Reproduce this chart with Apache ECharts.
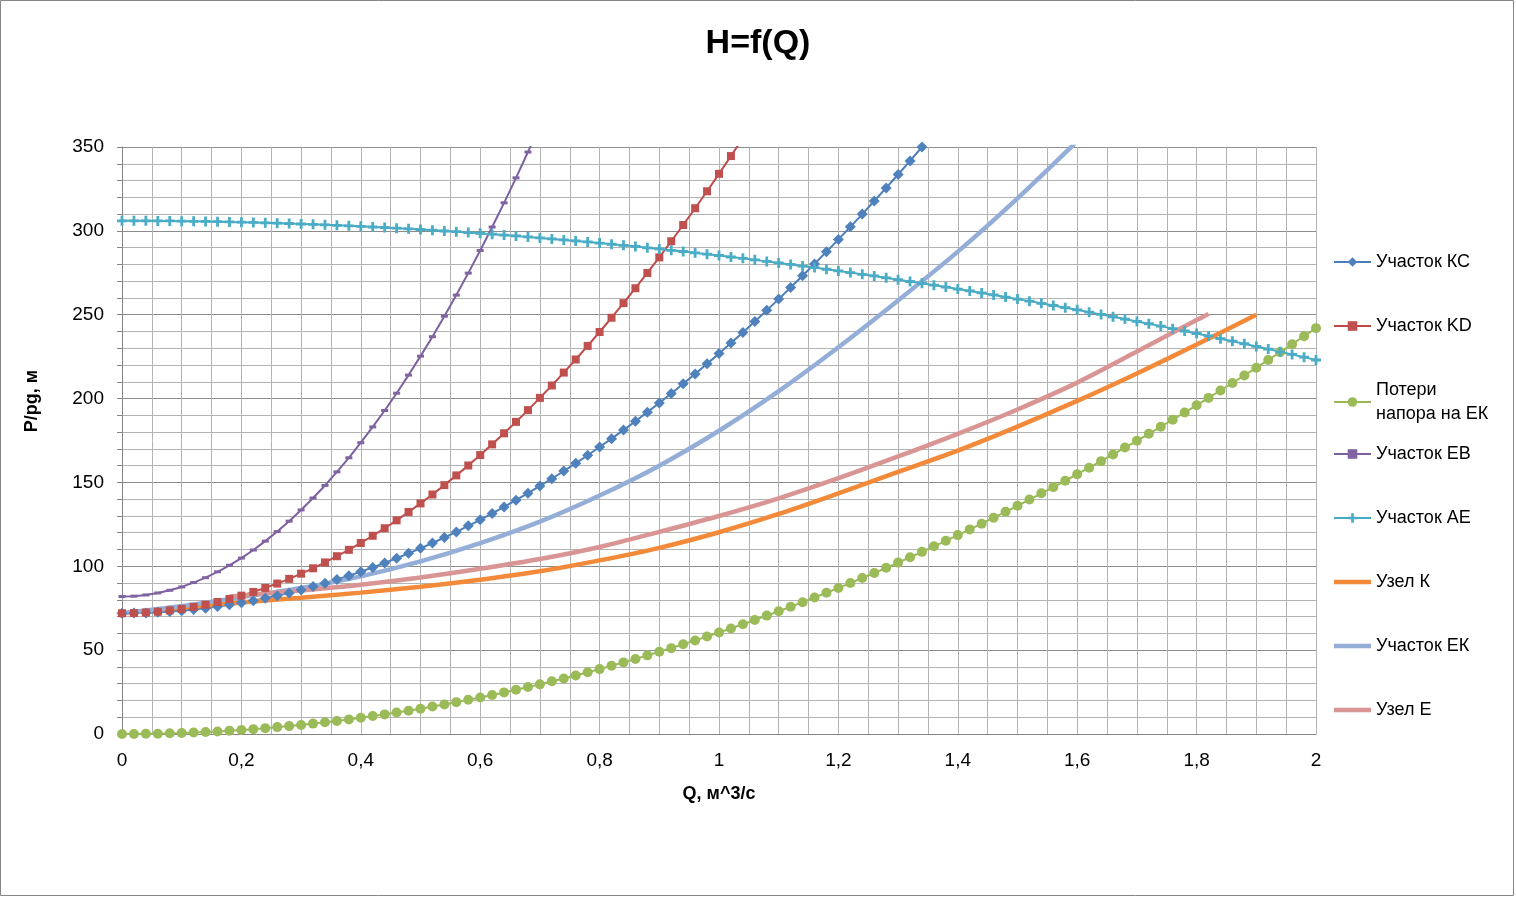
<!DOCTYPE html>
<html><head><meta charset="utf-8">
<script src="https://cdn.jsdelivr.net/npm/echarts@6/dist/echarts.min.js"></script>
<style>html,body{margin:0;padding:0;background:#fff}#c{width:1516px;height:897px}</style>
</head><body><div id="c"></div>
<script>
// Q grid for marker series (м^3/с)
const qFine = [0,0.02,0.04,0.06,0.08,0.1,0.12,0.14,0.16,0.18,0.2,0.22,0.24,0.26,0.28,0.3,0.32,0.34,0.36,0.38,0.4,0.42,0.44,0.46,0.48,0.5,0.52,0.54,0.56,0.58,0.6,0.62,0.64,0.66,0.68,0.7,0.72,0.74,0.76,0.78,0.8,0.82,0.84,0.86,0.88,0.9,0.92,0.94,0.96,0.98,1,1.02,1.04,1.06,1.08,1.1,1.12,1.14,1.16,1.18,1.2,1.22,1.24,1.26,1.28,1.3,1.32,1.34,1.36,1.38,1.4,1.42,1.44,1.46,1.48,1.5,1.52,1.54,1.56,1.58,1.6,1.62,1.64,1.66,1.68,1.7,1.72,1.74,1.76,1.78,1.8,1.82,1.84,1.86,1.88,1.9,1.92,1.94,1.96,1.98,2];
// Q grid for smooth node curves
const qCoarse = [0,0.1,0.2,0.3,0.4,0.5,0.6,0.7,0.8,0.9,1,1.1,1.2,1.3,1.4,1.5,1.6,1.7,1.8,1.9];
const qNodeE = [0.18,0.2,0.3,0.4,0.5,0.6,0.7,0.8,0.9,1,1.1,1.2,1.3,1.4,1.5,1.6,1.7,1.8,1.82];

const uchKC = [72,72.1,72.2,72.6,73.0,73.5,74.2,75.0,76.0,77.0,
78.2,79.5,80.9,82.5,84.1,85.9,87.9,89.9,92.1,94.4,
96.8,99.3,102.0,104.8,107.7,110.7,113.9,117.1,120.5,124.1,
127.7,131.5,135.4,139.4,143.6,147.9,152.2,156.8,161.4,166.2,
171.1,176.1,181.2,186.5,191.9,197.4,203.0,208.8,214.7,220.7,
226.8,233.1,239.4,245.9,252.6,259.3,266.2,273.2,280.3,287.5,
294.9,302.4,310.0,317.8,325.6,333.6,341.7,350.0,358.3];
const uchKD = [72,72.1,72.4,72.9,73.7,74.6,75.8,77.1,78.7,80.5,
82.5,84.7,87.1,89.7,92.5,95.6,98.8,102.3,106.0,109.8,
113.9,118.2,122.7,127.4,132.4,137.5,142.8,148.4,154.2,160.1,
166.3,172.7,179.3,186.1,193.1,200.4,207.8,215.5,223.3,231.4,
239.7,248.2,256.9,265.8,274.9,284.2,293.8,303.5,313.5,323.6,
334.0,344.6,355.4];
const poteriEK = [0,0.0,0.1,0.2,0.4,0.6,0.9,1.2,1.5,2.0,
2.4,2.9,3.5,4.1,4.7,5.4,6.2,7.0,7.8,8.7,
9.7,10.7,11.7,12.8,13.9,15.1,16.4,17.6,19.0,20.4,
21.8,23.3,24.8,26.4,28.0,29.6,31.4,33.1,34.9,36.8,
38.7,40.7,42.7,44.7,46.9,49.0,51.2,53.5,55.8,58.1,
60.5,62.9,65.4,68.0,70.6,73.2,75.9,78.6,81.4,84.2,
87.1,90.0,93.0,96.0,99.1,102.2,105.4,108.6,111.9,115.2,
118.6,122.0,125.4,129.0,132.5,136.1,139.8,143.5,147.2,151.0,
154.9,158.8,162.7,166.7,170.8,174.8,179.0,183.2,187.4,191.7,
196.0,200.4,204.8,209.3,213.8,218.4,223.0,227.7,232.4,237.2,
242.0];
const uchEB = [82,82.2,82.9,84.1,85.7,87.7,90.3,93.2,96.7,100.6,
104.9,109.7,115.0,120.7,126.9,133.6,140.7,148.2,156.3,164.7,
173.7,183.1,192.9,203.2,214.0,225.3,236.9,249.1,261.7,274.8,
288.3,302.3,316.7,331.6,347.0,362.8];
const uchAE = [306.0,306.0,306.0,305.9,305.9,305.8,305.7,305.6,305.5,305.3,
305.2,305.0,304.8,304.6,304.4,304.1,303.9,303.6,303.3,303.0,
302.7,302.3,302.0,301.6,301.2,300.8,300.4,299.9,299.5,299.0,
298.5,298.0,297.5,297.0,296.4,295.8,295.2,294.6,294.0,293.4,
292.7,292.0,291.4,290.7,289.9,289.2,288.4,287.7,286.9,286.1,
285.3,284.4,283.6,282.7,281.8,280.9,280.0,279.0,278.1,277.1,
276.1,275.1,274.1,273.1,272.0,270.9,269.8,268.7,267.6,266.5,
265.3,264.2,263.0,261.8,260.5,259.3,258.1,256.8,255.5,254.2,
252.9,251.5,250.2,248.8,247.4,246.0,244.6,243.2,241.7,240.3,
238.8,237.3,235.7,234.2,232.7,231.1,229.5,227.9,226.3,224.7,
223.0];
const uzelK = [71.8,75.2,78.4,81.3,84.3,87.8,92.0,97.0,103.5,111.0,120.3,131.2,143.5,156.3,169.0,183.3,198.6,215.0,232.2,250.0];
const uchEK = [72.0,76.3,81.6,87.0,94.0,102.9,113.8,126.6,142.2,160.0,180.8,204.4,230.6,258.5,287.6,319.4,353.5];
const uzelE = [82.0,82.6,85.5,89.0,93.3,98.5,104.3,111.5,120.5,130.0,140.5,152.5,165.5,179.0,193.5,209.5,228.0,246.8,250.5];

const seriesNames = ['Участок КС','Участок KD','Потери напора на ЕК','Участок ЕВ','Участок АЕ','Узел К','Участок ЕК','Узел Е'];
const xTickLabels = {'0':'0','0.2':'0,2','0.4':'0,4','0.6':'0,6','0.8':'0,8','1':'1','1.2':'1,2','1.4':'1,4','1.6':'1,6','1.8':'1,8','2':'2'};

function pairs(xs, ys){ return ys.map((v,i)=>[xs[i], v]); }
const FONT = '"Liberation Sans", Arial, sans-serif';
const plusPath = 'path://M3.6,0H6.4V3.6H10V6.4H6.4V10H3.6V6.4H0V3.6H3.6Z';
const thickIcon = 'path://M0,0H37V4.5H0Z';

function markerSeries(name, ys, color, lineColor, symbol, size){
  return {name, type:'line', data:pairs(qFine, ys), symbol, symbolSize:size, showSymbol:true,
    lineStyle:{color:lineColor, width:2}, itemStyle:{color:color, borderWidth:0}, clip:true, smooth:false,
    emphasis:{disabled:true}};
}
function thickSeries(name, xs, ys, color){
  return {name, type:'line', data:pairs(xs, ys), symbol:'none', showSymbol:false, smooth:0.3,
    lineStyle:{color, width:4.5}, itemStyle:{color}, clip:true, emphasis:{disabled:true}};
}

const chart = echarts.init(document.getElementById('c'), null, {renderer:'canvas'});
const legendText = {fontFamily:FONT, fontSize:18, color:'#000', lineHeight:24};
const legendItems = seriesNames.map((n,i)=> i>=5 ? {name:n, icon:thickIcon} : {name:n});
const option = {
  animation:false,
  backgroundColor:'#fff',
  title:{text:'H=f(Q)', left:'center', top:22, textStyle:{fontFamily:FONT, fontSize:34, fontWeight:'bold', color:'#000'}},
  grid:{left:122, right:200, top:147, bottom:163, containLabel:false},
  legend:[
    {data:legendItems.slice(0,3), orient:'vertical', left:1328, top:245, itemWidth:37, itemHeight:12, itemGap:40,
     textStyle:legendText, formatter:n=> n==='Потери напора на ЕК' ? 'Потери\nнапора на ЕК' : n, selectedMode:false},
    {data:legendItems.slice(3), orient:'vertical', left:1328, top:437, itemWidth:37, itemHeight:12, itemGap:40,
     textStyle:legendText, selectedMode:false}
  ],
  xAxis:{type:'value', min:0, max:2, interval:0.2,
    name:'Q, м^3/с', nameLocation:'middle', nameGap:51,
    nameTextStyle:{fontFamily:FONT, fontSize:18, fontWeight:'bold', color:'#000'},
    axisLine:{show:true, onZero:false, lineStyle:{color:'#868686'}},
    axisTick:{show:false},
    axisLabel:{margin:17, fontFamily:FONT, fontSize:19, color:'#000',
      formatter:v=> xTickLabels[String(+v.toFixed(2))] || ''},
    splitLine:{show:true, lineStyle:{color:'#B3B3B3', width:1}},
    minorTick:{show:false, splitNumber:4},
    minorSplitLine:{show:true, lineStyle:{color:'#B3B3B3', width:1}}},
  yAxis:{type:'value', min:0, max:350, interval:50,
    axisLine:{show:true, lineStyle:{color:'#868686'}},
    axisTick:{show:true, length:5, lineStyle:{color:'#868686'}},
    minorTick:{show:true, splitNumber:5, length:5, lineStyle:{color:'#868686'}},
    axisLabel:{margin:18, fontFamily:FONT, fontSize:19, color:'#000'},
    splitLine:{show:true, lineStyle:{color:'#8C8C8C', width:1}},
    minorSplitLine:{show:true, lineStyle:{color:'#B3B3B3', width:1}}},
  graphic:[
    {type:'rect', shape:{x:0.5, y:0.5, width:1513, height:895}, style:{fill:null, stroke:'#868686', lineWidth:1}, silent:true, z:-1},
    {type:'text', x:32, y:401, rotation:Math.PI/2, style:{text:'P/pg, м', fontFamily:FONT, fontSize:18, fontWeight:'bold', fill:'#000', textAlign:'center', textVerticalAlign:'middle'}}
  ],
  series:[
    markerSeries(seriesNames[0], uchKC, '#4F81BD', '#4A7EBB', 'diamond', 11),
    markerSeries(seriesNames[1], uchKD, '#C0504D', '#BE4B48', 'rect', 8),
    markerSeries(seriesNames[2], poteriEK, '#9BBB59', '#98B954', 'circle', 10),
    markerSeries(seriesNames[3], uchEB, '#8064A2', '#7D60A0', 'rect', [7,3]),
    markerSeries(seriesNames[4], uchAE, '#4BACC6', '#46AAC5', plusPath, 10),
    thickSeries(seriesNames[5], qCoarse, uzelK, '#F38A3A'),
    thickSeries(seriesNames[6], qCoarse, uchEK, '#94AED8'),
    thickSeries(seriesNames[7], qNodeE, uzelE, '#D99593')
  ]
};
chart.setOption(option);
</script></body></html>
